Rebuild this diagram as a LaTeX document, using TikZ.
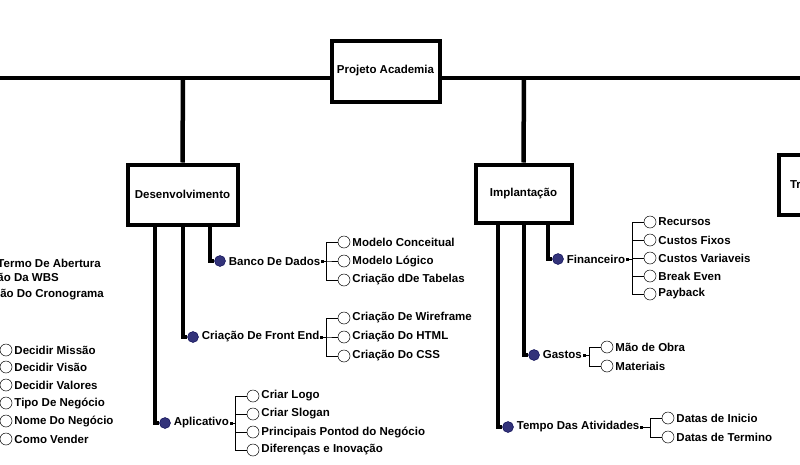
\documentclass[tikz,border=0pt]{standalone}
\usepackage{fontspec}
\setmainfont{Liberation Sans}
\begin{document}
\begin{tikzpicture}[x=1pt,y=-1pt,
 thick line/.style={line width=4.5pt},
 box/.style={draw,line width=4pt,fill=white,font=\bfseries\fontsize{11.5}{13}\selectfont,inner sep=0pt},
 dot/.style={circle,fill=blue!35!black!80,draw=blue!30!black,minimum size=11pt,inner sep=0pt},
 leaf/.style={circle,draw,fill=white,minimum size=12pt,inner sep=0pt,line width=0.5pt},
 lbl/.style={anchor=west,font=\bfseries\fontsize{11.5}{13}\selectfont,inner sep=0pt},
 sq/.style={fill,minimum size=3pt,inner sep=0pt},
 br/.style={line width=0.7pt}]
\useasboundingbox (0,0) rectangle (800,464);
\clip (0,0) rectangle (800,464);
\fill[white] (0,0) rectangle (800,464);
% main
\coordinate (L) at (-5,78); \coordinate (R) at (805,78);
\draw[thick line] (L) -- (R);
\coordinate (d1) at (183,78); \coordinate (d2) at (524,78);
\node[box,minimum width=108pt,minimum height=61pt] (root) at (385.5,71) {Projeto Academia};
\node[box,minimum width=110pt,minimum height=60pt] (des) at (182.5,194.5) {Desenvolvimento};
\node[box,minimum width=96pt,minimum height=58pt] (imp) at (523.5,193.5) {Implantação};
\node[box,minimum width=100pt,minimum height=60pt,text width=78pt,align=left] (tre) at (829,184.5) {Treinamento};
\draw[thick line] (d1) -- (des.north);
\draw[thick line] (d2) -- (imp.north);
\node[box,minimum width=108pt,minimum height=61pt] at (385.5,71) {Projeto Academia};

\newcommand\subbranch[5]{%
  \coordinate (#1top) at (#2,#3);
  \node[dot] (#1dot) at (#2+10,#4) {};
  \draw[thick line] (#1top) |- (#1dot.west);
  \node[lbl] (#1) at (#1dot.east) [xshift=3pt] {#5};
}
\newcommand\leaves[4]{%
  \node[sq] (#1sq) at ([xshift=2pt]#1.east) {};
  \foreach \yy/\tt [count=\i] in {#3} {
    \node[leaf] (#4\i) at (#2+18,\yy) {};
    \node[lbl] (#4t\i) at ([xshift=2pt]#4\i.east) {\tt};
    \draw[br] (#1sq) -| (#2,\yy) -- (#4\i.west);
  }
}
\subbranch{banco}{210}{226}{261}{Banco De Dados}
\subbranch{front}{183}{226}{337}{Criação De Front End}
\subbranch{app}{155}{226}{423}{Aplicativo}
\subbranch{fin}{548}{224}{259}{Financeiro}
\subbranch{gas}{524}{224}{355}{Gastos}
\subbranch{tem}{498}{224}{427}{Tempo Das Atividades}

\leaves{banco}{326}{242/Modelo Conceitual,261/Modelo Lógico,280/Criação dDe Tabelas}{bl}
\leaves{front}{326}{318/Criação De Wireframe,337/Criação Do HTML,356/Criação Do CSS}{fl}
\leaves{app}{235}{396/Criar Logo,414/Criar Slogan,432/Principais Pontod do Negócio,450/Diferenças e Inovação}{al}
\leaves{fin}{632}{222/Recursos,240/Custos Fixos,258/Custos Variaveis,276/Break Even,294/Payback}{nl}
\leaves{gas}{589}{347/Mão de Obra,366/Materiais}{gl}
\leaves{tem}{650}{418/Datas de Inicio,437/Datas de Termino}{tl}

% left cut-off content
\node[lbl,anchor=east] (lt1) at (101,263) {Termo De Abertura};
\node[lbl,anchor=east] (lt2) at (59,279) {Criação Da WBS};
\node[lbl,anchor=east] (lt3) at (104,295) {Criação Do Cronograma};
\foreach \yy/\tt [count=\i] in {350/Decidir Missão,367/Decidir Visão,385/Decidir Valores,403/Tipo De Negócio,421/Nome Do Negócio,439/Como Vender} {
  \node[leaf] (ll\i) at (6,\yy) {};
  \node[lbl] (llt\i) at ([xshift=2pt]ll\i.east) {\tt};
  \coordinate (llc\i) at (-20,\yy);
  \draw[br] (llc\i) -- (ll\i.west);
}
\end{tikzpicture}
\end{document}
